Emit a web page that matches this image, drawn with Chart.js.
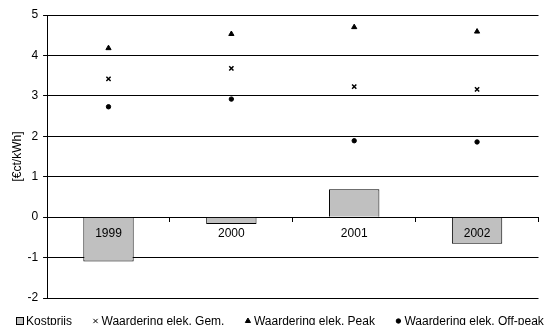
<!DOCTYPE html>
<html>
<head>
<meta charset="utf-8">
<script src="https://cdn.jsdelivr.net/npm/chart.js@4/dist/chart.umd.min.js"></script>
<style>
  html, body { margin: 0; padding: 0; background: #fff; }
  #wrap { width: 544px; height: 325px; }
</style>
</head>
<body>
<div id="wrap"><canvas id="c" width="544" height="325"></canvas></div>
<script>
// Years on the category axis
const years = ['1999', '2000', '2001', '2002'];
// Cost price (bars)
const kostprijs = [-1.10, -0.17, 0.69, -0.66];
// Valuation of electricity: average, peak and off-peak
const waardGem = [3.42, 3.68, 3.23, 3.16];
const waardPeak = [4.18, 4.53, 4.70, 4.59];
const waardOffPeak = [2.73, 2.92, 1.89, 1.86];
// Value axis range
const yMin = -2, yMax = 5, yStep = 1;

const FAMILY = '"Liberation Sans", Arial, sans-serif';
const font = { family: FAMILY, size: 12 };

// Single-row legend along the bottom edge, entries laid out left to right
const bottomLegend = {
  id: 'bottomLegend',
  afterDraw(chart) {
    const ctx = chart.ctx;
    const cy = 321;
    let x = 16;
    ctx.save();
    ctx.font = '12px ' + FAMILY;
    ctx.textBaseline = 'middle';
    ctx.fillStyle = '#000';
    chart.data.datasets.forEach((ds, i) => {
      if (i === 0) {
        ctx.fillStyle = ds.backgroundColor;
        ctx.fillRect(x + 0.5, cy - 3.5, 7, 7);
        ctx.strokeStyle = ds.borderColor;
        ctx.lineWidth = 1;
        ctx.strokeRect(x + 0.5, cy - 3.5, 7, 7);
        x += 10;
      } else {
        x += 3;
        ctx.fillStyle = '#000';
        ctx.strokeStyle = '#000';
        Chart.helpers.drawPoint(ctx, {
          pointStyle: ds.pointStyle, radius: ds.pointRadius, borderWidth: ds.pointBorderWidth
        }, x, cy);
        x += 6;
      }
      ctx.fillStyle = '#000';
      ctx.fillText(ds.label, x, cy + 0.5);
      x += ctx.measureText(ds.label).width + 20.5;
    });
    ctx.restore();
  }
};

new Chart(document.getElementById('c'), {
  data: {
    labels: years,
    datasets: [
      {
        type: 'bar', label: 'Kostprijs', data: kostprijs,
        backgroundColor: '#c0c0c0', borderColor: '#000', borderWidth: 1,
        barPercentage: 0.41, categoryPercentage: 1
      },
      {
        type: 'line', label: 'Waardering elek. Gem.', data: waardGem, showLine: false,
        pointStyle: 'crossRot', pointRadius: 3, borderColor: '#000', backgroundColor: '#000', pointBorderWidth: 1.5
      },
      {
        type: 'line', label: 'Waardering elek. Peak', data: waardPeak, showLine: false,
        pointStyle: 'triangle', pointRadius: 3, borderColor: '#000', backgroundColor: '#000', pointBorderWidth: 1
      },
      {
        type: 'line', label: 'Waardering elek. Off-peak', data: waardOffPeak, showLine: false,
        pointStyle: 'circle', pointRadius: 2.2, borderColor: '#000', backgroundColor: '#000', pointBorderWidth: 1
      }
    ]
  },
  options: {
    responsive: false,
    animation: false,
    devicePixelRatio: 1,
    layout: { padding: { left: 6, right: 0, top: 15, bottom: 27 } },
    plugins: {
      tooltip: { enabled: false },
      legend: { display: false }
    },
    scales: {
      x: {
        type: 'category',
        position: { y: 0 },
        offset: true,
        border: { display: true, color: '#000', width: 1 },
        grid: { offset: true, drawOnChartArea: false, drawTicks: true, tickLength: 4, color: '#000' },
        ticks: { color: '#000', font: font, padding: 5, maxRotation: 0, autoSkip: false, z: 2 }
      },
      y: {
        min: yMin, max: yMax,
        ticks: { stepSize: yStep, color: '#000', font: font, padding: 5 },
        border: { display: true, color: '#000', width: 1 },
        grid: { color: '#000', lineWidth: 1, drawTicks: true, tickLength: 4 },
        title: { display: true, text: '[€ct/kWh]', color: '#000', font: font, padding: { top: 4, bottom: -2 } }
      }
    }
  },
  plugins: [bottomLegend]
});
</script>
</body>
</html>
